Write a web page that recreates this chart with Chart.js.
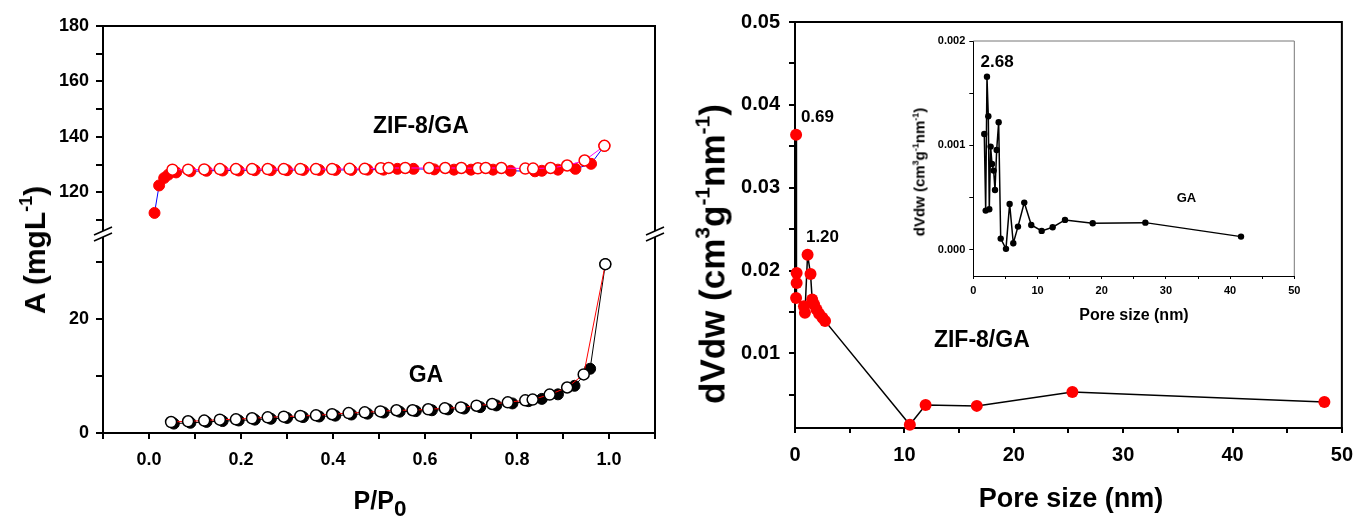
<!DOCTYPE html>
<html>
<head>
<meta charset="utf-8">
<script src="https://cdn.jsdelivr.net/npm/chart.js@4.4.1/dist/chart.umd.min.js"></script>
<style>
  body { margin: 0; background: #fff; width: 1363px; height: 516px; position: relative; overflow: hidden;
         font-family: Arial, "Liberation Sans", sans-serif; }
  canvas { position: absolute; }
  .t { position: absolute; font-weight: bold; white-space: nowrap; color: #000; line-height: 1;
       transform: translate(-50%, -50%); }
  .rot { transform: translate(-50%, -50%) rotate(-90deg); }
  .t sup { font-size: 0.6em; vertical-align: 0.7em; line-height: 0; }
  .t sub { font-size: 0.9em; vertical-align: -0.35em; line-height: 0; }
</style>
</head>
<body>
<canvas id="iso" width="680" height="516" style="left:0;top:0"></canvas>
<canvas id="pore" width="673" height="516" style="left:690px;top:0"></canvas>
<canvas id="inset" width="410" height="305" style="left:900px;top:25px"></canvas>

<div class="t rot" style="left:35px;top:250px;font-size:30px">A (mgL<sup>-1</sup>)</div>
<div class="t" style="left:380px;top:500px;font-size:25px">P/P<sub>0</sub></div>
<div class="t rot" style="left:712px;top:254px;font-size:35px">dVdw (cm<sup>3</sup>g<sup>-1</sup>nm<sup>-1</sup>)</div>
<div class="t" style="left:1071px;top:498px;font-size:27px">Pore size (nm)</div>
<div class="t rot" style="left:919px;top:172px;font-size:15px">dVdw (cm<sup>3</sup>g<sup>-1</sup>nm<sup>-1</sup>)</div>
<div class="t" style="left:1134px;top:315px;font-size:16px">Pore size (nm)</div>

<script>
// isotherms, ZIF-8/GA (upper segment)
const zifAdsP = [0.012, 0.022, 0.033, 0.042, 0.059, 0.09, 0.125, 0.16, 0.195, 0.23, 0.265, 0.3, 0.335, 0.37, 0.405, 0.44, 0.475, 0.51, 0.54, 0.575, 0.62, 0.663, 0.7, 0.748, 0.786, 0.839, 0.854, 0.889, 0.927, 0.961, 0.99];
const zifAdsA = [112.6, 122.5, 125.2, 126.4, 127.2, 127.6, 127.8, 127.9, 127.9, 128.0, 128.0, 128.0, 128.1, 128.1, 128.1, 128.1, 128.2, 128.2, 128.5, 128.5, 128.3, 128.2, 128.2, 128.2, 127.8, 127.6, 127.8, 128.2, 128.5, 130.3, 136.8];
const zifDesP = [0.051, 0.085, 0.12, 0.154, 0.189, 0.224, 0.258, 0.293, 0.329, 0.363, 0.398, 0.436, 0.469, 0.504, 0.521, 0.557, 0.609, 0.644, 0.679, 0.715, 0.732, 0.766, 0.818, 0.835, 0.873, 0.909, 0.947, 0.99];
const zifDesA = [128.2, 128.2, 128.3, 128.4, 128.4, 128.4, 128.4, 128.4, 128.4, 128.4, 128.4, 128.5, 128.5, 128.7, 128.8, 128.8, 128.8, 128.8, 128.8, 128.7, 128.8, 128.8, 128.6, 128.6, 128.8, 129.7, 131.5, 136.8];

// isotherms, GA (lower segment)
const gaAdsP = [0.054, 0.09, 0.125, 0.16, 0.195, 0.23, 0.265, 0.3, 0.335, 0.37, 0.405, 0.44, 0.475, 0.51, 0.545, 0.58, 0.615, 0.65, 0.685, 0.72, 0.755, 0.79, 0.825, 0.854, 0.889, 0.925, 0.959, 0.992];
const gaAdsA = [1.65, 1.8, 1.95, 2.1, 2.2, 2.35, 2.5, 2.65, 2.8, 2.9, 3.05, 3.25, 3.4, 3.6, 3.75, 3.85, 4.0, 4.15, 4.3, 4.55, 4.85, 5.2, 5.6, 6.0, 6.8, 8.3, 11.3, 29.7];
const gaDesP = [0.048, 0.085, 0.12, 0.154, 0.189, 0.224, 0.258, 0.293, 0.329, 0.363, 0.398, 0.434, 0.469, 0.503, 0.538, 0.573, 0.607, 0.643, 0.678, 0.712, 0.746, 0.78, 0.818, 0.834, 0.871, 0.909, 0.945, 0.992];
const gaDesA = [1.93, 2.06, 2.18, 2.35, 2.41, 2.59, 2.76, 2.88, 3.0, 3.1, 3.3, 3.5, 3.64, 3.8, 4.0, 4.0, 4.17, 4.34, 4.5, 4.8, 5.1, 5.4, 5.75, 5.87, 6.75, 8.0, 10.3, 29.7];

// pore size distribution
const zifPore = [0.1, 0.15, 0.15, 0.1, 0.82, 0.91, 1.15, 1.42, 1.57, 1.75, 1.97, 2.2, 2.51, 2.75, 10.5, 11.94, 16.62, 25.36, 48.4];
const zifDv = [0.0364, 0.0197, 0.0185, 0.0167, 0.0157, 0.0149, 0.0219, 0.0196, 0.0165, 0.0159, 0.0153, 0.0148, 0.0143, 0.0139, 0.0014, 0.00378, 0.00367, 0.00535, 0.00415];
const gaPore = [1.71, 1.93, 2.13, 2.34, 2.49, 2.7, 2.91, 3.17, 3.38, 3.64, 3.95, 4.27, 5.09, 5.66, 6.23, 6.96, 7.94, 9.03, 10.65, 12.36, 14.28, 18.6, 26.8, 41.7];
const gaDv = [0.00111, 0.000376, 0.001658, 0.001279, 0.000389, 0.000989, 0.000823, 0.000759, 0.000574, 0.000957, 0.001222, 0.000108, 0.00001, 0.00044, 0.000064, 0.000223, 0.000453, 0.000239, 0.000182, 0.000217, 0.000287, 0.000255, 0.000261, 0.000127];

// ticks (all marks) and the ones that carry a label
const isoXTicks = [-0.1, 0, 0.1, 0.2, 0.3, 0.4, 0.5, 0.6, 0.7, 0.8, 0.9, 1.0, 1.1];
const isoXLabels = [0, 0.2, 0.4, 0.6, 0.8, 1.0];
const topYTicks = [110, 120, 130, 140, 150, 160, 170, 180];
const topYLabels = [120, 140, 160, 180];
const botYTicks = [0, 10, 20, 30];
const botYLabels = [0, 20];
const poreXTicks = [0, 5, 10, 15, 20, 25, 30, 35, 40, 45, 50];
const poreXLabels = [0, 10, 20, 30, 40, 50];
const poreYTicks = [0.005, 0.01, 0.015, 0.02, 0.025, 0.03, 0.035, 0.04, 0.045, 0.05];
const poreYLabels = [0.01, 0.02, 0.03, 0.04, 0.05];
const insetYTicks = [0, 0.0005, 0.001, 0.0015, 0.002];
const insetYLabels = [0, 0.001, 0.002];

const FAM = 'Arial, "Liberation Sans", sans-serif';
Chart.defaults.font.family = FAM;
Chart.defaults.color = '#000';

const pts = (xs, ys) => xs.map((x, i) => ({ x, y: ys[i] }));
const setTicks = vals => scale => { scale.ticks = vals.map(v => ({ value: v })); };
const labelIf = (labels, dec) => v => labels.some(l => Math.abs(l - v) < 1e-9) ? v.toFixed(dec) : '';

function axis(o) {
  return {
    type: 'linear',
    min: o.min, max: o.max,
    position: o.position,
    stack: o.stack, stackWeight: o.stackWeight,
    afterBuildTicks: setTicks(o.ticks),
    afterFit: s => { if (o.position === 'left') s.width = o.size; else s.height = o.size; },
    ticks: { callback: labelIf(o.labels, o.dec), font: { size: o.font, weight: 'bold' }, color: '#000',
             padding: o.pad, autoSkip: false, maxRotation: 0 },
    grid: { drawOnChartArea: false, tickLength: o.tick, color: '#000', lineWidth: o.lw },
    border: { display: true, color: '#000', width: o.lw }
  };
}

// text at data coordinates + frame + axis break
const notes = {
  id: 'notes',
  afterDatasetsDraw(chart, args, opts) {
    const ctx = chart.ctx;
    const a = chart.chartArea;
    ctx.save();
    ctx.strokeStyle = opts.frameColor || '#000';
    ctx.lineWidth = opts.frameWidth || 2;
    ctx.beginPath();
    ctx.moveTo(a.left, a.top); ctx.lineTo(a.right, a.top); ctx.lineTo(a.right, a.bottom);
    ctx.stroke();
    if (opts.breakAt) {
      const y = chart.scales[opts.breakAt].top;
      [a.left, a.right].forEach(x => {
        ctx.fillStyle = '#fff';
        ctx.fillRect(x - 3, y - 3, 6, 6);
        ctx.strokeStyle = '#000';
        ctx.lineWidth = 1.5;
        [-3, 3].forEach(d => {
          ctx.beginPath();
          ctx.moveTo(x - 9, y + 4 + d);
          ctx.lineTo(x + 9, y - 4 + d);
          ctx.stroke();
        });
      });
    }
    (opts.items || []).forEach(it => {
      const xs = chart.scales[it.xAxis || 'x'];
      const ys = chart.scales[it.yAxis || 'y'];
      ctx.font = it.font;
      ctx.fillStyle = '#000';
      ctx.textAlign = it.align || 'center';
      ctx.textBaseline = 'middle';
      ctx.fillText(it.text, xs.getPixelForValue(it.x), ys.getPixelForValue(it.y));
    });
    ctx.restore();
  }
};

new Chart(document.getElementById('iso'), {
  type: 'line',
  data: {
    datasets: [
      { data: pts(zifAdsP, zifAdsA), yAxisID: 'yTop', order: 2, borderColor: '#0000ff', borderWidth: 1,
        pointRadius: 5.5, pointBackgroundColor: '#ff0000', pointBorderColor: '#ff0000', pointBorderWidth: 1, clip: false },
      { data: pts(zifDesP, zifDesA), yAxisID: 'yTop', order: 1, borderColor: '#ff00ff', borderWidth: 1,
        pointRadius: 5.5, pointBackgroundColor: '#ffffff', pointBorderColor: '#ff0000', pointBorderWidth: 1.5, clip: false },
      { data: pts(gaAdsP, gaAdsA), yAxisID: 'yBot', order: 4, borderColor: '#000000', borderWidth: 1,
        pointRadius: 5.5, pointBackgroundColor: '#000000', pointBorderColor: '#000000', pointBorderWidth: 1, clip: false },
      { data: pts(gaDesP, gaDesA), yAxisID: 'yBot', order: 3, borderColor: '#ff0000', borderWidth: 1,
        pointRadius: 5.5, pointBackgroundColor: '#ffffff', pointBorderColor: '#000000', pointBorderWidth: 1.5, clip: false }
    ]
  },
  options: {
    responsive: false, animation: false, events: [],
    layout: { padding: { top: 26, right: 25, left: 0, bottom: 0 } },
    plugins: {
      legend: { display: false }, tooltip: { enabled: false },
      notes: {
        breakAt: 'yBot',
        items: [
          { text: 'ZIF-8/GA', x: 0.591, y: 143.8, yAxis: 'yTop', font: 'bold 23px ' + FAM },
          { text: 'GA', x: 0.602, y: 10, yAxis: 'yBot', font: 'bold 23px ' + FAM }
        ]
      }
    },
    scales: {
      x: axis({ min: -0.1, max: 1.1, position: 'bottom', ticks: isoXTicks, labels: isoXLabels, dec: 1,
                size: 83, font: 18, pad: 10, tick: 6, lw: 2 }),
      yBot: axis({ min: 0, max: 35, position: 'left', stack: 'a', stackWeight: 199, ticks: botYTicks, labels: botYLabels,
                   dec: 0, size: 103, font: 18, pad: 7, tick: 7, lw: 2 }),
      yTop: axis({ min: 105, max: 180, position: 'left', stack: 'a', stackWeight: 208, ticks: topYTicks, labels: topYLabels,
                   dec: 0, size: 103, font: 18, pad: 7, tick: 7, lw: 2 })
    }
  },
  plugins: [notes]
});

new Chart(document.getElementById('pore'), {
  type: 'line',
  data: {
    datasets: [
      { data: pts(zifPore, zifDv), borderColor: '#000', borderWidth: 1.5, pointRadius: 6,
        pointBackgroundColor: '#ff0000', pointBorderColor: '#ff0000', pointBorderWidth: 0, clip: false }
    ]
  },
  options: {
    responsive: false, animation: false, events: [],
    layout: { padding: { top: 22, right: 16, left: 0, bottom: 0 } },
    plugins: {
      legend: { display: false }, tooltip: { enabled: false },
      notes: {
        items: [
          { text: '0.69', x: 0.54, y: 0.0385, align: 'left', font: 'bold 17px ' + FAM },
          { text: '1.20', x: 1.0, y: 0.024, align: 'left', font: 'bold 17px ' + FAM },
          { text: 'ZIF-8/GA', x: 12.7, y: 0.0116, align: 'left', font: 'bold 23px ' + FAM }
        ]
      }
    },
    scales: {
      x: axis({ min: 0, max: 50, position: 'bottom', ticks: poreXTicks, labels: poreXLabels, dec: 0,
                size: 88, font: 20, pad: 10, tick: 5, lw: 2 }),
      y: axis({ min: 0.001, max: 0.05, position: 'left', ticks: poreYTicks, labels: poreYLabels, dec: 2,
                size: 105, font: 20, pad: 9, tick: 6, lw: 2 })
    }
  },
  plugins: [notes]
});

new Chart(document.getElementById('inset'), {
  type: 'line',
  data: {
    datasets: [
      { data: pts(gaPore, gaDv), borderColor: '#000', borderWidth: 1.5, pointRadius: 3.2,
        pointBackgroundColor: '#000', pointBorderColor: '#000', pointBorderWidth: 0 }
    ]
  },
  options: {
    responsive: false, animation: false, events: [],
    layout: { padding: { top: 16, right: 15.7, left: 0, bottom: 0 } },
    plugins: {
      legend: { display: false }, tooltip: { enabled: false },
      notes: {
        frameColor: '#777', frameWidth: 1,
        items: [
          { text: '2.68', x: 3.7, y: 0.0018, font: 'bold 17px "Liberation Sans Narrow", ' + FAM },
          { text: 'GA', x: 33.2, y: 0.00049, font: 'bold 13px ' + FAM }
        ]
      }
    },
    scales: {
      x: axis({ min: 0, max: 50, position: 'bottom', ticks: poreXTicks, labels: poreXLabels, dec: 0,
                size: 54, font: 11, pad: 5, tick: 3, lw: 1 }),
      y: axis({ min: -0.00025, max: 0.002, position: 'left', ticks: insetYTicks, labels: insetYLabels, dec: 3,
                size: 73.3, font: 11, pad: 4, tick: 4, lw: 1 })
    }
  },
  plugins: [notes]
});
</script>
</body>
</html>
